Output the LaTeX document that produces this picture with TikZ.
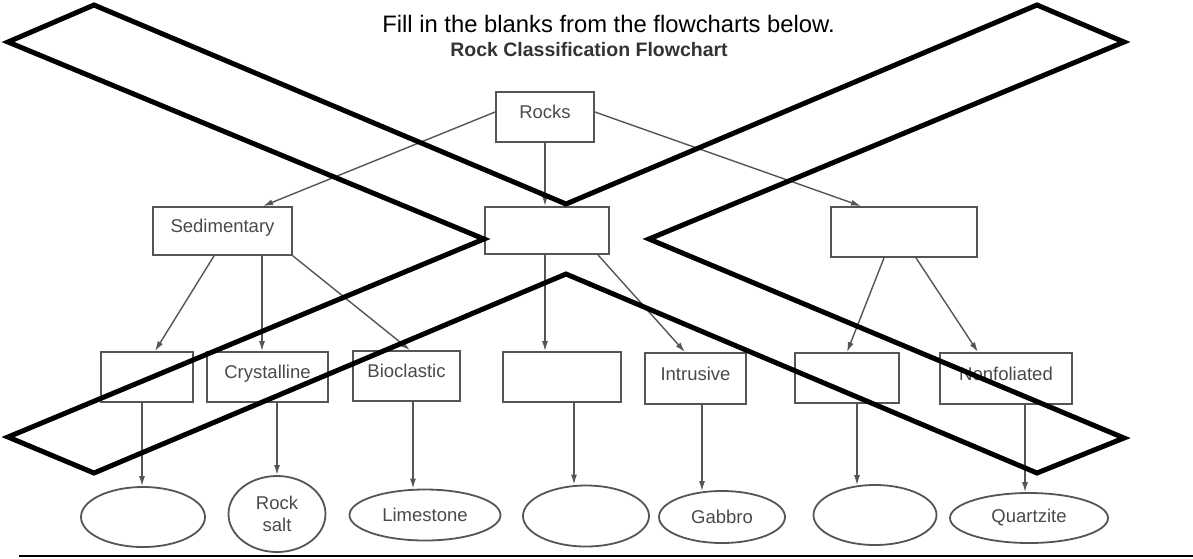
\documentclass[tikz,border=0pt]{standalone}
\usepackage{fontspec}
\setmainfont{Liberation Sans}
\usetikzlibrary{shapes.geometric,arrows.meta,calc}
\definecolor{boxgray}{HTML}{555555}
\definecolor{txtgray}{HTML}{4A4A4A}
\definecolor{ttlgray}{HTML}{333333}
\begin{document}
\begin{tikzpicture}[x=1pt,y=-1pt,
 box/.style={draw=boxgray,line width=1.8pt,rectangle,inner sep=0pt,text height=13.3pt,text depth=10pt,font=\fontsize{18.5}{22}\selectfont,text=txtgray},
 oval/.style={draw=boxgray,line width=1.8pt,ellipse,inner sep=0pt,font=\fontsize{18.5}{22}\selectfont,text=txtgray,align=center},
 conn/.style={draw=boxgray,line width=1.4pt,-{Latex[length=10pt,width=6pt]}},
 cross/.style={draw=black,line width=5pt,line join=miter}
]
\fill[white] (0,0) rectangle (1193,558);
\useasboundingbox (0,0) rectangle (1193,558);

% titles
\node[anchor=base,font=\fontsize{23.8}{26}\selectfont,inner sep=0pt] (title) at (608.5,32) {Fill in the blanks from the flowcharts below.};
\node[anchor=base,font=\fontsize{19.5}{22}\selectfont\bfseries,text=ttlgray,inner sep=0pt] (subtitle) at (589,56.5) {Rock Classification Flowchart};

% level 1
\node[box,minimum width=98pt,minimum height=50pt] (rocks) at (545,117) {Rocks};
% level 2
\node[box,minimum width=139pt,minimum height=48pt] (sed) at (222.5,231) {Sedimentary};
\node[box,minimum width=124pt,minimum height=47pt] (ign) at (547,230.5) {};
\node[box,minimum width=146pt,minimum height=50pt] (met) at (904,232) {};
% level 3
\node[box,minimum width=92pt,minimum height=50pt] (b1) at (147,377) {};
\node[box,minimum width=121pt,minimum height=50pt] (cry) at (267.5,377) {Crystalline};
\node[box,minimum width=107pt,minimum height=50pt] (bio) at (406.5,376) {Bioclastic};
\node[box,minimum width=118pt,minimum height=50pt] (b4) at (562,377) {};
\node[box,minimum width=101pt,minimum height=51pt] (intr) at (695.5,378.5) {Intrusive};
\node[box,minimum width=104pt,minimum height=50pt] (b6) at (847,378) {};
\node[box,minimum width=132pt,minimum height=51pt] (nonf) at (1006,378.5) {Nonfoliated};
% level 4
\node[oval,minimum width=124pt,minimum height=60pt] (e1) at (143,517) {};
\node[oval,minimum width=97pt,minimum height=76pt] (e2) at (277,514) {Rock\\salt};
\node[oval,minimum width=151pt,minimum height=51pt] (e3) at (425,515) {Limestone};
\node[oval,minimum width=126pt,minimum height=61pt] (e4) at (586,516) {};
\node[oval,minimum width=126pt,minimum height=52pt] (e5) at (722,517) {Gabbro};
\node[oval,minimum width=123pt,minimum height=60pt] (e6) at (875,515) {};
\node[oval,minimum width=158pt,minimum height=50pt] (e7) at (1029,518) {Quartzite};

% connectors level 1 -> 2
\draw[conn] ([yshift=5pt]rocks.west) -- ([xshift=40.5pt]sed.north);
\draw[conn] (rocks.south) -- (rocks.south |- ign.north);
\draw[conn] ([yshift=5pt]rocks.east) -- ([xshift=-43pt]met.north);
% level 2 -> 3
\draw[conn] ([xshift=-8.5pt]sed.south) -- ([xshift=8pt]b1.north);
\draw[conn] ([xshift=39.5pt]sed.south) -- ([xshift=39.5pt]sed.south |- cry.north);
\draw[conn] (sed.south east) -- ([xshift=3.5pt]bio.north);
\draw[conn] ([xshift=-2pt]ign.south) -- ([xshift=-2pt]ign.south |- b4.north);
\draw[conn] ([xshift=51pt]ign.south) -- ([xshift=-10.5pt]intr.north);
\draw[conn] ([xshift=-20pt]met.south) -- (b6.north);
\draw[conn] ([xshift=12pt]met.south) -- ([xshift=-28pt]nonf.north);
% level 3 -> 4
\draw[conn] ([xshift=-5pt]b1.south) -- ([xshift=-5pt]b1.south |- e1.north);
\draw[conn] ([xshift=9.5pt]cry.south) -- ([xshift=9.5pt]cry.south |- e2.north);
\draw[conn] ([xshift=6.5pt]bio.south) -- ([xshift=6.5pt]bio.south |- e3.north);
\draw[conn] ([xshift=12pt]b4.south) -- ([xshift=12pt]b4.south |- e4.north);
\draw[conn] ([xshift=6.5pt]intr.south) -- ([xshift=6.5pt,yshift=-1pt]intr.south |- e5.north);
\draw[conn] ([xshift=10pt]b6.south) -- ([xshift=10pt,yshift=-1pt]b6.south |- e6.north);
\draw[conn] ([xshift=19pt]nonf.south) -- ([xshift=19pt]nonf.south |- e7.north);

% bottom rule
\coordinate (rl) at (19,556);
\coordinate (rr) at (1193,556);
\draw[black,line width=2.5pt] (rl) -- (rr);

% big cross-out X
\draw[cross] (94,5) -- (8,42) -- (484,239) -- (8,437) -- (94,473) -- (566,274) -- (1037,473) -- (1124,438) -- (649,239) -- (1124,42) -- (1037,5) -- (566,204) -- cycle;
\end{tikzpicture}
\end{document}
